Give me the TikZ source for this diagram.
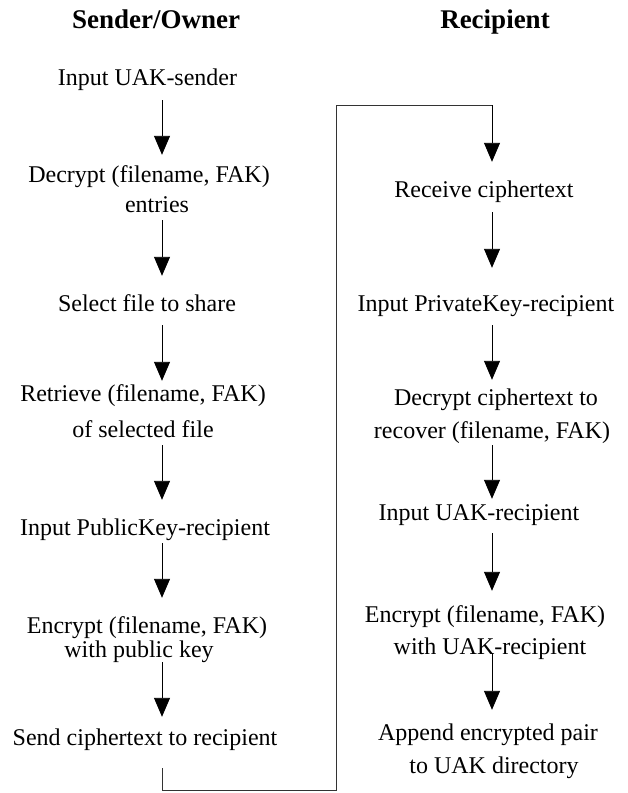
\documentclass[tikz,border=0pt]{standalone}
\usepackage{fontspec}
\setmainfont{Liberation Serif}
\usetikzlibrary{arrows.meta}

% arrow from the foot of one step to the head of the next, along a column
\newcommand\flowarrow[5]{%
  \draw[flow] ([yshift=#3]#1.south -| #5) -- ([yshift=#4]#2.north -| #5);}

\tikzset{
  txt/.style={inner sep=0pt, anchor=base, text height=17pt, text depth=5pt,
              font=\fontsize{24}{28}\selectfont},
  head/.style={inner sep=0pt, anchor=base, font=\fontsize{27}{32}\selectfont\bfseries},
  flow/.style={draw=black, line width=0.9pt,
               -{Triangle[length=19pt,width=16pt]}},
  link/.style={draw=black!80, line width=0.9pt}
}

\begin{document}
\begin{tikzpicture}[x=1pt,y=-1pt]
\useasboundingbox (0,0) rectangle (627,793);

% column headings
\node[head] (hs) at (156,28) {Sender/Owner};
\node[head] (hr) at (495,28) {Recipient};

% arrow columns
\coordinate (colL) at (162,0);
\coordinate (colR) at (492,0);

% sender steps
\node[txt] (l1)  at (147.5,85) {Input UAK-sender};
\node[txt] (l2)  at (149,182)  {Decrypt (filename, FAK)};
\node[txt] (l2b) at (157,212)  {entries};
\node[txt] (l3)  at (147,311)  {Select file to share};
\node[txt] (l4)  at (143,401)  {Retrieve (filename, FAK)};
\node[txt] (l4b) at (143,437)  {of selected file};
\node[txt] (l5)  at (145,535)  {Input PublicKey-recipient};
\node[txt] (l6)  at (147,633)  {Encrypt (filename, FAK)};
\node[txt] (l6b) at (139,657)  {with public key};
\node[txt] (l7)  at (145,745)  {Send ciphertext to recipient};

% recipient steps
\node[txt] (r1)  at (484,197)  {Receive ciphertext};
\node[txt] (r2)  at (486,311)  {Input PrivateKey-recipient};
\node[txt] (r3)  at (496,405)  {Decrypt ciphertext to};
\node[txt] (r3b) at (492,438)  {recover (filename, FAK)};
\node[txt] (r4)  at (479,520)  {Input UAK-recipient};
\node[txt] (r5)  at (485,622)  {Encrypt (filename, FAK)};
\node[txt] (r5b) at (490,654)  {with UAK-recipient};
\node[txt] (r6)  at (488,740)  {Append encrypted pair};
\node[txt] (r6b) at (494,773)  {to UAK directory};

% sender flow
\flowarrow{l1}{l2}{-10pt}{10pt}{colL}
\flowarrow{l2b}{l3}{-3pt}{18pt}{colL}
\flowarrow{l3}{l4}{-9pt}{3pt}{colL}
\flowarrow{l4b}{l5}{-3pt}{18pt}{colL}
\flowarrow{l5}{l6}{-3pt}{18pt}{colL}
\flowarrow{l6b}{l7}{0pt}{11pt}{colL}

% hand-over from sender to recipient
\coordinate (bendL) at (162,790);
\coordinate (bendR) at (336,790);
\coordinate (topL)  at (336,105);
\coordinate (topR)  at (492,105);
\draw[link] ([yshift=-18pt]l7.south -| colL) -- (bendL) -- (bendR) -- (topL) -- (topR);
\draw[flow] (topR) -- ([yshift=18pt]r1.north -| colR);

% recipient flow
\flowarrow{r1}{r2}{-10pt}{26pt}{colR}
\flowarrow{r2}{r3}{-9pt}{8pt}{colR}
\flowarrow{r3b}{r4}{-2pt}{4pt}{colR}
\flowarrow{r4}{r5}{-8pt}{14pt}{colR}
\flowarrow{r5b}{r6}{6pt}{13pt}{colR}
\end{tikzpicture}
\end{document}
